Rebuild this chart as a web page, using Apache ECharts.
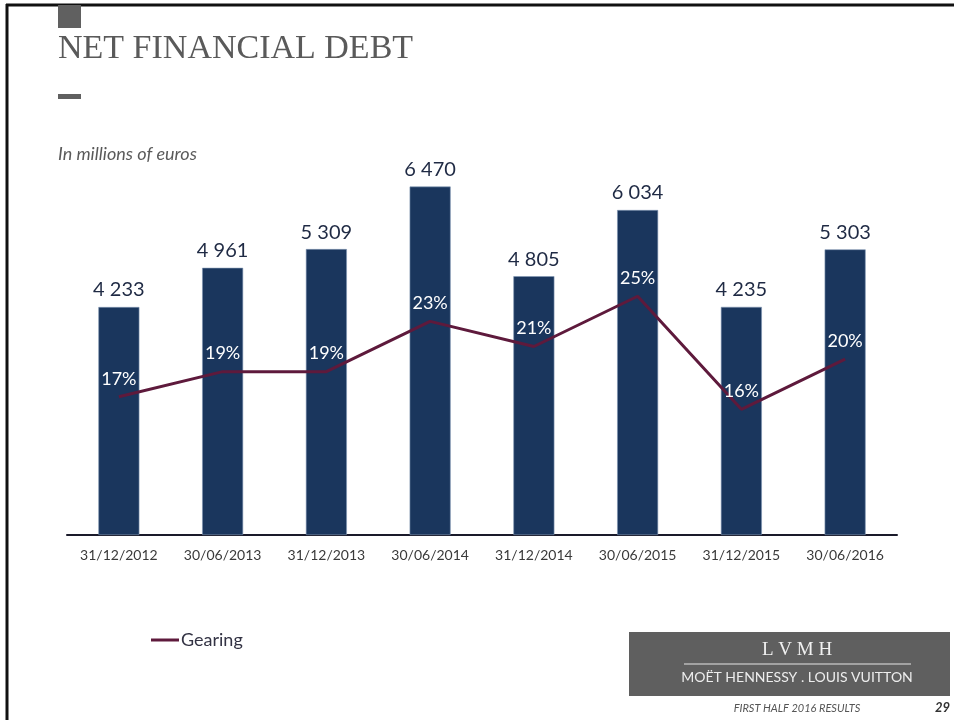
<!DOCTYPE html>
<html>
<head>
<meta charset="utf-8">
<script src="https://cdn.jsdelivr.net/npm/echarts@6/dist/echarts.min.js"></script>
<style>
  html, body { margin: 0; padding: 0; background: #fff; }
  #chart { width: 954px; height: 720px; }
</style>
</head>
<body>
<div id="chart"></div>
<script>
// chart data
var dates = ['31/12/2012', '30/06/2013', '31/12/2013', '30/06/2014', '31/12/2014', '30/06/2015', '31/12/2015', '30/06/2016']
var netDebt = [4233, 4961, 5309, 6470, 4805, 6034, 4235, 5303]
var gearing = [17, 19, 19, 23, 21, 25, 16, 20]

var chart = echarts.init(document.getElementById('chart'))

function spaced(v) {
  return String(v).replace(/\B(?=(\d{3})+(?!\d))/g, ' ')
}

chart.setOption({
  backgroundColor: '#fff',
  textStyle: { fontFamily: 'Lato' },
  animation: false,
  grid: { left: 67, right: 57, top: 158, bottom: 185 },
  legend: {
    left: 146,
    top: 626,
    itemWidth: 28,
    itemHeight: 3,
    itemGap: 4,
    data: [{ name: 'Gearing', icon: 'rect' }],
    textStyle: { fontSize: 18, color: '#333344', fontFamily: 'Lato', padding: [0, 0, 0, -3] }
  },
  xAxis: {
    type: 'category',
    data: dates,
    axisTick: { show: false },
    axisLine: { lineStyle: { color: '#1a1a2a', width: 2 } },
    axisLabel: { color: '#3a3a3a', fontSize: 14, margin: 13, interval: 0 }
  },
  yAxis: [
    { type: 'value', min: 0, max: 7000, show: false, splitLine: { show: false } },
    { type: 'value', min: 6, max: 36, show: false, splitLine: { show: false } }
  ],
  series: [
    {
      name: 'Net financial debt',
      type: 'bar',
      data: netDebt,
      barWidth: 41,
      itemStyle: { color: '#1a365d', borderColor: '#8197b3', borderWidth: 0.6 },
      label: {
        show: true,
        position: 'top',
        distance: 7,
        color: '#1f2a44',
        fontSize: 20,
        formatter: function (p) { return spaced(p.value) }
      }
    },
    {
      name: 'Gearing',
      type: 'line',
      yAxisIndex: 1,
      data: gearing,
      symbol: 'circle',
      symbolSize: 0.1,
      lineStyle: { color: '#5e1a3c', width: 3 },
      itemStyle: { color: '#5e1a3c' },
      label: {
        show: true,
        position: 'top',
        distance: 9,
        color: '#ffffff',
        fontSize: 18,
        formatter: '{c}%'
      }
    }
  ],
  graphic: [
    // slide frame
    { type: 'line', shape: { x1: 6, y1: 5, x2: 954, y2: 5 }, style: { stroke: '#111', lineWidth: 3 } },
    { type: 'line', shape: { x1: 7, y1: 4, x2: 7, y2: 720 }, style: { stroke: '#111', lineWidth: 3 } },
    { type: 'rect', shape: { x: 58, y: 5, width: 23, height: 23 }, style: { fill: '#606060' } },
    { type: 'rect', shape: { x: 58, y: 94, width: 23, height: 5 }, style: { fill: '#606060' } },
    {
      type: 'text', left: 58, top: 32,
      style: { text: 'NET FINANCIAL DEBT', fill: '#5a5a5a', font: '34px "Liberation Serif", "DejaVu Serif", serif' }
    },
    {
      type: 'text', left: 58, top: 145,
      style: { text: 'In millions of euros', fill: '#5a5a5a', font: 'italic 18px Lato' }
    },
    // logo block
    { type: 'rect', shape: { x: 629, y: 632, width: 321, height: 64 }, style: { fill: '#5f5f5f' } },
    {
      type: 'text', x: 797, y: 641,
      style: { text: 'L V M H', fill: '#f0f0f0', font: '19px "Liberation Serif", serif', textAlign: 'center' }
    },
    { type: 'line', shape: { x1: 684, y1: 664, x2: 911, y2: 664 }, style: { stroke: '#e6e6e6', lineWidth: 1 } },
    {
      type: 'text', x: 797, y: 670,
      style: { text: 'MOËT HENNESSY . LOUIS VUITTON', fill: '#ededed', font: '14px Lato', textAlign: 'center' }
    },
    {
      type: 'text', x: 797, y: 703,
      style: { text: 'FIRST HALF 2016 RESULTS', fill: '#555', font: 'italic 11px Lato', textAlign: 'center' }
    },
    {
      type: 'text', x: 950, y: 701,
      style: { text: '29', fill: '#333', font: 'italic bold 13px Lato', textAlign: 'right' }
    }
  ]
})
</script>
</body>
</html>
